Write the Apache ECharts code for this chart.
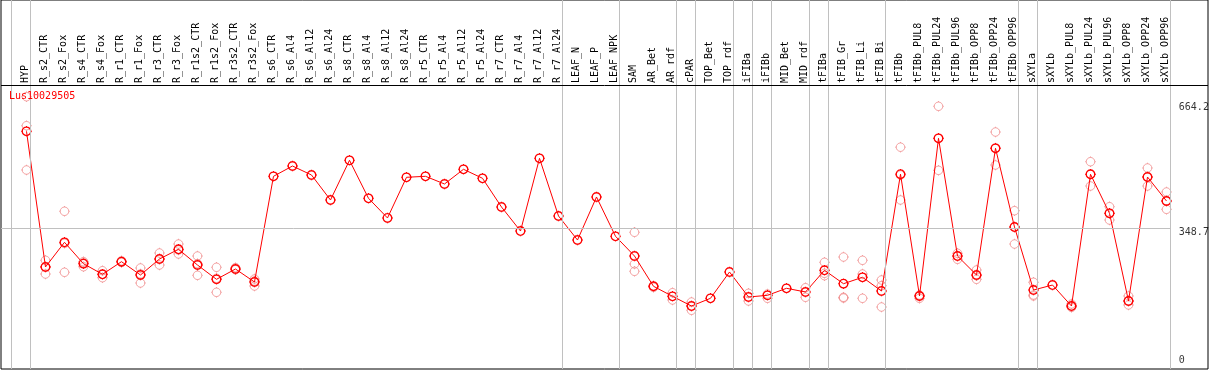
<!DOCTYPE html>
<html>
<head>
<meta charset="utf-8">
<script src="https://cdn.jsdelivr.net/npm/echarts@6/dist/echarts.min.js"></script>
<style>html,body{margin:0;padding:0;background:#fff;}#c{width:1209px;height:370px;}</style>
</head>
<body>
<div id="c"></div>
<script>
const seriesName = 'Lus10029505';
const categories = ['HYP','R_s2_CTR','R_s2_Fox','R_s4_CTR','R_s4_Fox','R_r1_CTR','R_r1_Fox','R_r3_CTR','R_r3_Fox','R_r1s2_CTR','R_r1s2_Fox','R_r3s2_CTR','R_r3s2_Fox','R_s6_CTR','R_s6_Al4','R_s6_Al12','R_s6_Al24','R_s8_CTR','R_s8_Al4','R_s8_Al12','R_s8_Al24','R_r5_CTR','R_r5_Al4','R_r5_Al12','R_r5_Al24','R_r7_CTR','R_r7_Al4','R_r7_Al12','R_r7_Al24','LEAF_N','LEAF_P','LEAF_NPK','SAM','AR_Bet','AR_rdf','cPAR','TOP_Bet','TOP_rdf','iFIBa','iFIBb','MID_Bet','MID_rdf','tFIBa','tFIB_Gr','tFIB_Li','tFIB_Bi','tFIBb','tFIBb_PUL8','tFIBb_PUL24','tFIBb_PUL96','tFIBb_OPP8','tFIBb_OPP24','tFIBb_OPP96','sXYLa','sXYLb','sXYLb_PUL8','sXYLb_PUL24','sXYLb_PUL96','sXYLb_OPP8','sXYLb_OPP24','sXYLb_OPP96'];
const meanValues = [592.9,250.4,312.7,258.7,232.0,263.8,230.2,270.6,295.1,255.4,219.3,245.3,212.5,479.3,505.3,482.6,419.5,519.7,423.8,374.1,476.8,479.3,459.9,497.0,474.3,401.8,341.2,524.7,379.1,318.5,427.1,327.9,278.1,201.7,176.4,151.9,171.4,237.8,174.7,178.9,196.6,187.3,242.1,208.2,224.4,189.8,484.6,177.2,575.2,278.1,230.2,550.0,351.3,192.3,204.9,151.9,484.4,385.9,164.6,477.5,417.0];
const rep1 = [680.2,267.3,391.0,263.8,241.0,266.0,247.9,285.7,308.4,278.1,249.6,248.6,220.1,null,null,null,null,null,null,null,null,null,null,null,null,null,null,null,null,null,null,null,338.0,203.2,185.5,162.0,null,null,184.0,182.2,null,198.1,262.2,275.6,267.3,217.6,552.8,171.4,656.0,285.0,242.8,591.1,392.5,211.8,null,157.0,516.2,402.6,177.2,500.3,439.7];
const rep2 = [607.0,232.7,237.0,251.1,223.4,262.0,210.0,255.4,283.2,229.4,186.5,243.6,202.4,null,null,null,null,null,null,null,null,null,null,null,null,null,null,null,null,null,null,null,258.0,199.1,167.1,141.1,null,null,164.6,171.4,null,173.9,228.4,173.9,232.7,203.2,419.5,179.7,494.4,269.8,219.3,507.8,308.4,179.7,null,148.6,454.8,369.0,154.5,454.8,396.0];
const rep3 = [495.2,251.1,310.2,261.0,232.0,263.0,232.7,270.6,293.3,258.7,221.9,null,215.0,null,null,null,null,null,null,null,null,null,null,null,null,null,null,null,null,null,null,null,239.5,null,null,151.9,null,null,null,null,null,null,234.5,172.1,171.4,149.4,482.6,177.2,575.2,278.0,228.4,550.7,351.3,177.2,null,152.0,484.4,385.9,164.6,477.5,417.0];
const groupEnds = [-1,0,28,31,34,35,37,38,39,41,42,45,52,53,60];
const yTickValues = [0,348.7,664.2];

const X_MIN = -1.342, X_MAX = 62.184;
const Y_MIN = -7.07, Y_MAX = 924.3;
const HEADER_VALUE = 709.7;
const BREAK_SHIFT = 0.2;
const FONT = 'DejaVu Sans Mono';

const ringPath = 'path://M5.5,1.2A4.3,4.3,0,1,1,5.49,1.2Z M5.5,0.2L5.5,1.2 M5.5,9.8L5.5,10.8 M0.2,5.5L1.2,5.5 M9.8,5.5L10.8,5.5';

const repData = [];
[rep1, rep2, rep3].forEach(arr => arr.forEach((v, i) => { if (v != null) repData.push([i, v]); }));
const breaks = groupEnds.map(g => g + BREAK_SHIFT);
const lastBreak = breaks[breaks.length - 1];

const chart = echarts.init(document.getElementById('c'), null, {renderer: 'canvas'});
chart.setOption({
  animation: false,
  backgroundColor: '#fff',
  title: {
    text: seriesName, left: 9, top: 91, padding: 0,
    textStyle: {color: '#ff0000', fontSize: 10, fontWeight: 'normal', fontFamily: FONT}
  },
  grid: [
    {left: 1, top: 0, width: 1207, height: 369, show: true, borderColor: '#000', borderWidth: 1, backgroundColor: 'transparent'},
    {left: 16, top: 85, width: 1159, height: 1, show: false}
  ],
  xAxis: [
    {type: 'value', gridIndex: 0, min: X_MIN, max: X_MAX, show: false},
    {type: 'category', gridIndex: 1, data: categories, position: 'top', boundaryGap: true,
     axisLine: {show: false}, axisTick: {show: false}, splitLine: {show: false},
     axisLabel: {interval: 0, rotate: 90, margin: 2, fontSize: 10, fontFamily: FONT, color: '#000'}}
  ],
  yAxis: [
    {type: 'value', gridIndex: 0, min: Y_MIN, max: Y_MAX, show: false},
    {type: 'value', gridIndex: 1, show: false}
  ],
  series: [
    {
      type: 'scatter', xAxisIndex: 0, yAxisIndex: 0, silent: true,
      data: repData,
      symbol: ringPath, symbolSize: 10.5,
      itemStyle: {color: 'transparent', borderColor: '#f08c8c', borderWidth: 1},
      markLine: {
        silent: true, symbol: ['none', 'none'], label: {show: false},
        lineStyle: {color: '#c0c0c0', type: 'solid', width: 1},
        data: breaks.map(b => ({xAxis: b}))
          .concat([{yAxis: HEADER_VALUE, lineStyle: {color: '#000', type: 'solid', width: 1}}])
          .concat([[{coord: [X_MIN, yTickValues[1]]}, {coord: [lastBreak, yTickValues[1]]}]])
      },
      z: 2
    },
    {
      type: 'line', xAxisIndex: 0, yAxisIndex: 0, silent: true,
      data: meanValues.map((v, i) => [i, v]),
      showAllSymbol: true,
      symbol: ringPath, symbolSize: 10.5,
      lineStyle: {color: '#ff0000', width: 1},
      itemStyle: {color: 'transparent', borderColor: '#ff0000', borderWidth: 1.3},
      z: 3
    },
    {
      type: 'scatter', xAxisIndex: 0, yAxisIndex: 0, silent: true,
      symbolSize: 1, itemStyle: {color: 'transparent'},
      data: yTickValues.map(v => ({
        value: [lastBreak, v],
        label: {verticalAlign: v === 0 ? 'bottom' : 'top'}
      })),
      label: {
        show: true, position: [9, 0], align: 'left',
        fontSize: 10, fontFamily: FONT, color: '#000',
        formatter: p => String(p.value[1])
      },
      z: 4
    }
  ]
});
</script>
</body>
</html>
